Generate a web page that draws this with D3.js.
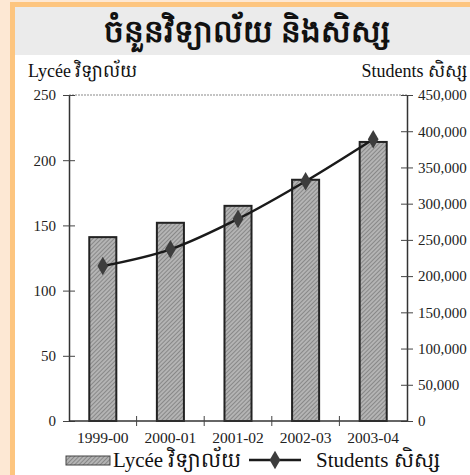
<!DOCTYPE html>
<html><head><meta charset="utf-8">
<script src="https://cdn.jsdelivr.net/npm/d3@7"></script>
<style>
html,body{margin:0;padding:0;background:#fde8d4;}
svg{display:block;}
svg text{font-family:"Liberation Serif","Times New Roman","DejaVu Serif",serif;}
</style></head>
<body>
<script>
const categories = ["1999-00","2000-01","2001-02","2002-03","2003-04"];
const lycee = [141, 152, 165, 185, 214];
const students = [214000, 237000, 279000, 331000, 389000];
const leftTicks = [0,50,100,150,200,250];
const rightTicks = [0,50000,100000,150000,200000,250000,300000,350000,400000,450000];
const title = "ចំនួនវិទ្យាល័យ  និងសិស្ស";
const leftTitle = "Lycée វិទ្យាល័យ";
const rightTitle = "Students សិស្ស";
const legendBar = "Lycée វិទ្យាល័យ";
const legendLine = "Students  សិស្ស";

const W=470,H=475;
const svg=d3.select("body").append("svg").attr("width",W).attr("height",H);
const defs=svg.append("defs");
const pat=defs.append("pattern").attr("id","hatch").attr("patternUnits","userSpaceOnUse")
  .attr("width",3).attr("height",3).attr("patternTransform","rotate(45)");
pat.append("rect").attr("width",3).attr("height",3).attr("fill","#b4b4b4");
pat.append("line").attr("x1",0).attr("y1",0).attr("x2",0).attr("y2",3).attr("stroke","#6a6a6a").attr("stroke-width",1.2);

// frame
svg.append("rect").attr("x",10).attr("y",2).attr("width",W-10).attr("height",H-2).attr("fill","#fdc57f");
svg.append("rect").attr("x",15).attr("y",7).attr("width",W-15).attr("height",H-7).attr("fill","#ffffff");
svg.append("rect").attr("x",15).attr("y",7).attr("width",W-15).attr("height",48).attr("fill","#ebebeb");

svg.append("text").attr("x",247).attr("y",42).attr("text-anchor","middle")
  .attr("font-weight","bold").attr("font-size",31).attr("fill","#111").text(title);

const m={l:69,r:407,t:95,b:421};
const x=d3.scaleBand().domain(categories).range([m.l,m.r]).paddingInner(0.6).paddingOuter(0.3);
const yL=d3.scaleLinear().domain([0,250]).range([m.b,m.t]);
const yR=d3.scaleLinear().domain([0,450000]).range([m.b,m.t]);

// top border
svg.append("line").attr("x1",m.l).attr("x2",m.r).attr("y1",m.t).attr("y2",m.t)
  .attr("stroke","#8a8a8a").attr("stroke-width",1.2).attr("stroke-dasharray","2,1");

// bars
svg.append("g").selectAll("rect").data(lycee).join("rect")
  .attr("x",(d,i)=>x(categories[i])).attr("y",d=>yL(d))
  .attr("width",x.bandwidth()).attr("height",d=>m.b-yL(d))
  .attr("fill","url(#hatch)").attr("stroke","#222").attr("stroke-width",2);

// axes
const axL=d3.axisLeft(yL).tickValues(leftTicks).tickSizeInner(6).tickSizeOuter(0).tickPadding(7);
const gL=svg.append("g").attr("transform",`translate(${m.l},0)`).call(axL);
const axR=d3.axisRight(yR).tickValues(rightTicks).tickFormat(d3.format(",")).tickSizeInner(6).tickSizeOuter(0).tickPadding(5);
const gR=svg.append("g").attr("transform",`translate(${m.r},0)`).call(axR);
const xTickScale=d3.scalePoint().domain(d3.range(categories.length+1)).range([m.l,m.r]);
const gX=svg.append("g").attr("transform",`translate(0,${m.b})`);
gX.append("line").attr("x1",m.l).attr("x2",m.r).attr("stroke","#333").attr("stroke-width",1.5);
gX.selectAll(".xt").data(d3.range(1,categories.length)).join("line")
  .attr("x1",d=>xTickScale(d)).attr("x2",d=>xTickScale(d)).attr("y1",-5).attr("y2",5).attr("stroke","#444");
gX.selectAll(".xl").data(categories).join("text")
  .attr("x",d=>x(d)+x.bandwidth()/2).attr("y",22).attr("text-anchor","middle")
  .attr("font-size",15.5).attr("fill","#222").text(d=>d);

[gL,gR].forEach(g=>{
  g.attr("font-family",null);
  g.select(".domain").attr("stroke","#333").attr("stroke-width",1.5);
  g.selectAll(".tick line").attr("stroke","#444");
  g.selectAll(".tick text").attr("font-size",15).attr("fill","#222");
});
gL.selectAll(".tick line").attr("x1",-6).attr("x2",6);
gR.selectAll(".tick line").attr("x1",-6).attr("x2",6);

// line
const line=d3.line().x((d,i)=>x(categories[i])+x.bandwidth()/2).y(d=>yR(d)).curve(d3.curveMonotoneX);
svg.append("path").datum(students).attr("d",line).attr("fill","none").attr("stroke","#1a1a1a").attr("stroke-width",2.5);
const dia=d3.symbol().type(d3.symbolDiamond).size(100);
svg.append("g").selectAll("path").data(students).join("path")
  .attr("transform",(d,i)=>`translate(${x(categories[i])+x.bandwidth()/2},${yR(d)})`)
  .attr("d",dia).attr("fill","#3d3d3d");

// axis titles
svg.append("text").attr("x",28).attr("y",77).attr("font-size",18).attr("fill","#111").text(leftTitle);
svg.append("text").attr("x",467).attr("y",77).attr("text-anchor","end").attr("font-size",18).attr("fill","#111").text(rightTitle);

// legend
const lg=svg.append("g");
lg.append("rect").attr("x",66).attr("y",456).attr("width",44).attr("height",9).attr("fill","url(#hatch)").attr("stroke","#444").attr("stroke-width",1);
lg.append("text").attr("x",113).attr("y",467).attr("font-size",21).attr("fill","#111").text(legendBar);
lg.append("line").attr("x1",249).attr("x2",301).attr("y1",460).attr("y2",460).attr("stroke","#1a1a1a").attr("stroke-width",2.5);
lg.append("path").attr("transform","translate(275,460)").attr("d",dia).attr("fill","#3d3d3d");
lg.append("text").attr("x",316).attr("y",467).attr("font-size",21).attr("fill","#111").text(legendLine);
</script>
</body></html>
